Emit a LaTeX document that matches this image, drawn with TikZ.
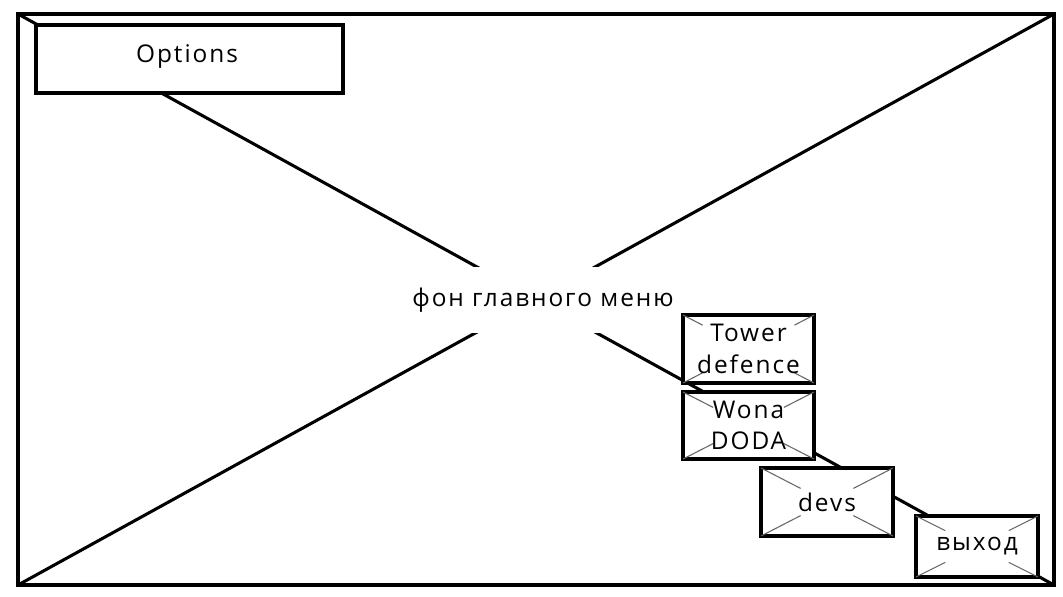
\documentclass[tikz,border=0pt]{standalone}
\usepackage{fontspec}
\setmainfont{Open Sans}[LetterSpace=8]
\usetikzlibrary{calc,positioning}

\begin{document}
\begin{tikzpicture}[
    x=0.75pt, y=-0.75pt,
    every node/.style={font=\fontsize{18.3}{23.5}\selectfont},
    heavy/.style={line width=2.3pt, black},
    wsize/.style 2 args={minimum width=#1*0.75pt, minimum height=#2*0.75pt},
    widget/.style={draw, line width=2.3pt, fill=white, inner sep=0pt, outer sep=0pt, align=center},
    crossline/.style={black!60, line width=0.8pt},
  ]
    \newcommand{\crossmarks}[2]{%
      \draw[crossline] (#1.north west) -- ($(#1.north west)!#2!(#1.south east)$);
      \draw[crossline] (#1.north east) -- ($(#1.north east)!#2!(#1.south west)$);
      \draw[crossline] (#1.south west) -- ($(#1.south west)!#2!(#1.north east)$);
      \draw[crossline] (#1.south east) -- ($(#1.south east)!#2!(#1.north west)$);
    }
    \useasboundingbox (0,0) rectangle (1063,596);

    % ---- background: frame with big cross ----
    \node[draw, heavy, wsize={1036}{571}, outer sep=0pt] (frame) at (536,299.5) {};
    \draw[heavy] (frame.north west) -- (frame.south east);
    \draw[heavy] (frame.north east) -- (frame.south west);
    \node[fill=white, wsize={270}{66}, inner sep=0pt] (bglabel) at (543,300) {фон главного меню};

    % ---- options button ----
    \node[widget, wsize={307}{68}] (options) at (189.5,59) {};
    \node (optlabel) at (187,56) {Options};

    % ---- menu entries ----
    \node[widget, wsize={131}{68}] (tower) at (748.5,349) {};
    \crossmarks{tower}{0.15}
    \node (towerlabel) at (tower.center) [align=center] {Tower\\defence};

    \node[widget, wsize={131}{67}] (wona) at (748.5,425.5) {};
    \crossmarks{wona}{0.23}
    \node (wonalabel) at (wona.center) [align=center] {Wona\\DODA};

    \node[widget, wsize={132}{68}] (devs) at (827,502) {};
    \crossmarks{devs}{0.3}
    \node (devslabel) at (devs.center) {devs};

    \node[widget, wsize={122}{61}] (exit) at (977,546.5) {};
    \crossmarks{exit}{0.24}
    \node (exitlabel) at (exit.center) {выход};
\end{tikzpicture}
\end{document}
